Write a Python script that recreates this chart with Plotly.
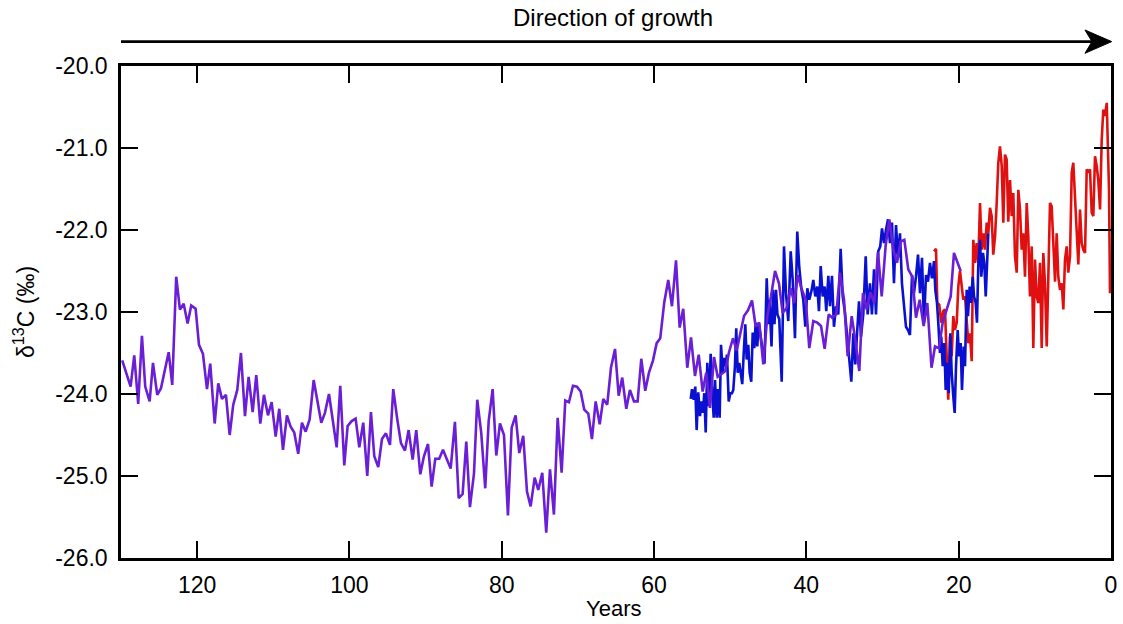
import plotly.graph_objects as go

# Stable carbon isotope record, three overlapping sample tracks (years before outer edge)
purple_years = [129.84, 128.74, 128.26, 127.74, 127.25, 126.82, 126.24, 125.80, 125.24, 124.75,
                123.74, 123.27, 122.75, 122.26, 121.77, 121.25, 120.78, 120.20, 119.76, 119.24,
                118.71, 118.28, 117.70, 117.23, 116.74, 116.22, 115.73, 115.26, 114.73, 114.25,
                113.72, 113.24, 112.71, 112.24, 111.71, 111.23, 110.70, 110.22, 109.69, 109.22,
                108.73, 108.21, 107.72, 107.25, 106.73, 106.24, 105.75, 105.23, 104.70, 104.23,
                103.70, 103.22, 102.69, 101.68, 101.21, 100.68, 100.24, 99.71, 99.19, 98.71,
                98.19, 97.66, 97.18, 96.74, 96.22, 95.73, 95.21, 94.68, 94.25, 93.72,
                93.24, 92.71, 92.23, 91.70, 91.23, 90.70, 90.22, 89.69, 89.21, 88.73,
                88.21, 87.72, 87.20, 86.71, 86.15, 85.66, 85.14, 84.66, 84.18, 83.65,
                83.22, 82.69, 82.17, 81.72, 81.20, 80.72, 80.24, 79.71, 79.19, 78.70,
                78.18, 77.70, 77.18, 76.69, 76.21, 75.68, 75.21, 74.68, 74.16, 73.67,
                73.15, 72.66, 72.14, 71.66, 71.18, 70.65, 70.13, 69.64, 69.17, 68.64,
                68.16, 67.67, 67.14, 66.67, 66.15, 65.66, 65.13, 64.65, 64.18, 63.65,
                63.17, 62.64, 62.16, 61.68, 61.16, 60.67, 60.14, 59.66, 59.19, 58.66,
                58.14, 57.65, 57.12, 56.64, 56.17, 55.64, 55.15, 54.63, 54.14, 53.62,
                53.15, 52.66, 52.13, 51.65, 51.18, 50.65, 50.16, 49.64, 49.15, 48.68,
                48.19, 47.67, 47.14, 46.66, 46.19, 45.66, 45.13, 44.65, 44.12, 43.60,
                43.11, 42.59, 42.06, 41.59, 41.14, 40.62, 40.09, 39.62, 39.09, 38.57,
                38.08, 37.60, 37.07, 36.60, 36.07, 35.59, 35.06, 34.58, 34.05, 33.58,
                33.05, 32.57, 32.08, 31.61, 31.08, 30.60, 30.11, 29.59, 29.11, 28.59,
                28.10, 27.62, 27.14, 26.62, 26.09, 25.61, 25.12, 24.60, 24.12, 23.57,
                23.11, 22.59, 22.10, 21.58, 21.05, 20.62, 20.18, 19.74]
purple_d13c = [-23.59, -23.91, -23.53, -24.12, -23.29, -23.91, -24.09, -23.62, -24.01, -23.93,
               -23.49, -23.89, -22.57, -22.97, -22.90, -23.14, -22.92, -22.96, -23.40, -23.51,
               -23.94, -23.63, -24.36, -23.87, -24.06, -24.01, -24.50, -24.13, -23.95, -23.50,
               -24.27, -23.79, -24.22, -23.77, -24.36, -24.01, -24.26, -24.10, -24.52, -24.18,
               -24.68, -24.26, -24.40, -24.47, -24.73, -24.35, -24.46, -24.31, -23.83, -24.09,
               -24.35, -24.23, -24.00, -24.65, -23.90, -24.87, -24.39, -24.33, -24.30, -24.65,
               -24.35, -25.00, -24.22, -24.76, -24.89, -24.55, -24.48, -24.62, -23.94, -24.31,
               -24.60, -24.69, -24.44, -24.80, -24.44, -24.98, -24.76, -24.61, -25.13, -24.79,
               -24.79, -24.68, -24.79, -24.91, -24.34, -25.27, -25.22, -24.58, -25.38, -24.97,
               -24.07, -24.48, -25.15, -24.33, -23.94, -24.75, -24.36, -24.50, -25.48, -24.41,
               -24.26, -24.72, -24.51, -25.19, -25.37, -25.02, -25.17, -24.96, -25.69, -24.92,
               -25.47, -24.29, -24.96, -24.08, -24.10, -23.90, -23.91, -23.97, -24.19, -24.24,
               -24.55, -24.09, -24.37, -24.06, -24.13, -23.68, -23.45, -24.02, -23.80, -24.18,
               -23.95, -24.09, -24.09, -23.57, -23.96, -23.74, -23.59, -23.38, -23.32, -22.88,
               -22.61, -22.93, -22.37, -23.19, -22.96, -23.68, -23.31, -23.78, -23.52, -23.97,
               -23.74, -24.17, -23.55, -23.79, -23.76, -23.72, -23.49, -23.32, -23.47, -23.25,
               -23.05, -22.98, -22.86, -23.18, -23.13, -23.64, -23.05, -22.81, -22.50, -22.65,
               -23.01, -22.95, -22.71, -22.89, -22.55, -22.72, -22.85, -23.44, -23.11, -23.13,
               -23.17, -23.45, -23.03, -23.07, -23.03, -22.52, -22.85, -23.54, -23.05, -23.34,
               -23.72, -22.77, -22.97, -22.76, -22.89, -22.27, -22.81, -22.19, -21.87, -22.24,
               -22.40, -22.14, -22.12, -22.48, -22.57, -23.07, -22.85, -23.17, -22.89, -23.68,
               -23.42, -23.44, -23.13, -22.97, -22.81, -22.28, -22.39, -22.50]

blue_years = [55.19, 55.02, 54.80, 54.59, 54.41, 54.20, 53.97, 53.80, 53.58, 53.41,
              53.22, 53.01, 52.79, 52.57, 52.40, 52.17, 52.00, 51.78, 51.61, 51.39,
              51.21, 50.99, 50.82, 50.60, 50.43, 50.20, 49.99, 49.77, 49.60, 49.38,
              49.21, 49.02, 48.81, 48.63, 48.42, 48.23, 48.02, 47.84, 47.63, 47.45,
              47.24, 47.05, 46.84, 46.66, 46.45, 46.26, 46.05, 45.77, 45.50, 45.21,
              44.98, 44.85, 44.58, 44.39, 44.19, 43.99, 43.80, 43.56, 43.24, 42.94,
              42.68, 42.38, 42.06, 41.80, 41.50, 41.20, 40.93, 40.67, 40.41, 40.14,
              39.88, 39.62, 39.30, 39.09, 38.83, 38.57, 38.35, 38.12, 37.86, 37.60,
              37.39, 37.12, 36.90, 36.64, 36.38, 36.11, 35.81, 35.50, 35.23, 34.93,
              34.63, 34.37, 34.10, 33.84, 33.58, 33.32, 33.09, 32.83, 32.53, 32.21,
              31.95, 31.65, 31.39, 31.12, 30.86, 30.56, 30.30, 30.07, 29.81, 29.55,
              29.28, 29.02, 28.76, 28.50, 28.23, 27.97, 27.71, 27.45, 27.18, 26.92,
              26.66, 26.40, 26.13, 25.87, 25.61, 25.34, 25.08, 24.82, 24.56, 24.29,
              24.03, 23.77, 23.51, 23.24, 23.07, 22.85, 22.68, 22.46, 22.29, 22.10,
              21.89, 21.71, 21.50, 21.31, 21.10, 20.92, 20.71, 20.53, 20.35, 20.13,
              19.96, 19.74, 19.57, 19.34, 19.17, 18.95, 18.78, 18.56, 18.38, 18.16,
              17.99, 17.77, 17.60, 17.43, 17.20, 17.03, 16.81, 16.64, 16.45, 16.28,
              16.11]
blue_d13c = [-24.06, -23.94, -24.07, -23.91, -24.44, -23.98, -24.27, -24.09, -24.23, -23.99,
             -24.47, -23.62, -24.15, -23.51, -23.91, -24.29, -23.83, -24.29, -23.94, -24.29,
             -23.40, -23.74, -23.56, -23.66, -23.52, -24.09, -23.99, -23.99, -23.95, -23.66,
             -23.20, -23.74, -23.62, -23.76, -23.88, -23.50, -23.15, -23.58, -23.40, -23.74,
             -23.85, -23.25, -23.44, -23.13, -23.42, -23.13, -23.28, -23.46, -23.63, -22.59,
             -23.15, -22.85, -23.42, -22.73, -23.15, -22.73, -23.03, -23.09, -23.85, -22.20,
             -22.77, -23.11, -22.26, -22.61, -23.32, -22.02, -22.46, -22.71, -22.85, -23.18,
             -22.71, -22.85, -22.73, -22.61, -22.81, -22.69, -22.99, -22.44, -22.81, -22.69,
             -22.99, -22.56, -22.93, -22.56, -23.18, -22.93, -23.03, -22.23, -22.81, -23.01,
             -23.32, -23.58, -23.85, -23.26, -23.64, -23.22, -22.87, -23.30, -23.03, -22.32,
             -23.03, -22.65, -23.03, -22.48, -23.03, -22.26, -22.20, -21.98, -22.16, -22.00,
             -21.87, -22.16, -21.91, -22.65, -21.94, -22.34, -22.04, -22.65, -22.89, -23.18,
             -23.22, -23.28, -22.55, -22.77, -22.57, -22.30, -22.77, -22.34, -23.13, -22.55,
             -22.63, -22.40, -22.59, -22.38, -22.73, -22.89, -23.13, -23.50, -23.30, -23.66,
             -23.38, -23.95, -23.62, -23.99, -23.26, -23.74, -24.03, -24.23, -23.66, -23.22,
             -23.54, -23.38, -23.95, -23.42, -23.66, -22.73, -23.05, -22.69, -22.89, -22.57,
             -22.81, -22.89, -23.13, -22.44, -22.12, -22.57, -22.28, -22.40, -22.81, -22.32,
             -22.04]

red_years = [23.24, 22.98, 22.81, 22.55, 22.29, 22.02, 21.80, 21.58, 21.37, 21.14,
             20.92, 20.71, 20.49, 20.26, 20.05, 19.83, 19.61, 19.40, 19.17, 18.95,
             18.74, 18.52, 18.29, 18.08, 17.86, 17.64, 17.43, 17.20, 16.98, 16.77,
             16.55, 16.32, 16.11, 15.89, 15.67, 15.46, 15.23, 15.01, 14.80, 14.58,
             14.35, 14.14, 13.92, 13.70, 13.49, 13.26, 13.04, 12.83, 12.61, 12.38,
             12.17, 11.95, 11.73, 11.52, 11.29, 11.07, 10.86, 10.64, 10.41, 10.20,
             9.98, 9.76, 9.55, 9.32, 9.10, 8.89, 8.67, 8.44, 8.23, 8.01,
             7.79, 7.58, 7.35, 7.13, 6.92, 6.70, 6.47, 6.26, 6.04, 5.82,
             5.61, 5.38, 5.16, 4.95, 4.73, 4.50, 4.29, 4.07, 3.85, 3.64,
             3.41, 3.19, 2.98, 2.76, 2.53, 2.32, 2.10, 1.88, 1.67, 1.44,
             1.22, 1.01, 0.79, 0.56, 0.43, 0.26, 0.13]
red_d13c = [-22.26, -22.23, -22.89, -22.91, -23.13, -22.99, -22.97, -23.62, -24.07, -23.30,
            -23.54, -23.05, -23.22, -23.13, -22.69, -22.50, -22.69, -22.85, -22.81, -23.13,
            -23.38, -23.26, -23.60, -22.12, -22.40, -22.16, -22.40, -21.67, -22.24, -22.04,
            -22.24, -21.91, -22.04, -21.73, -21.83, -22.30, -22.08, -21.67, -21.18, -20.98,
            -21.22, -21.91, -21.08, -21.14, -21.90, -21.39, -21.83, -21.55, -22.32, -22.52,
            -21.51, -21.75, -22.24, -22.04, -22.57, -21.67, -22.08, -22.81, -22.20, -23.44,
            -22.36, -22.81, -22.89, -22.40, -23.44, -22.28, -22.65, -23.42, -22.32, -21.67,
            -21.71, -22.12, -22.63, -22.04, -22.57, -22.73, -22.65, -22.97, -22.36, -22.20,
            -22.52, -22.32, -21.30, -21.18, -21.55, -22.00, -22.42, -21.75, -22.16, -22.24,
            -22.28, -21.26, -21.30, -21.26, -21.79, -21.83, -21.10, -21.22, -21.39, -21.75,
            -20.90, -20.53, -20.61, -20.45, -20.86, -21.51, -22.77]

x_ticks = [120, 100, 80, 60, 40, 20, 0]
x_tick_labels = ["120", "100", "80", "60", "40", "20", "0"]
y_ticks = [-26, -25, -24, -23, -22, -21, -20]
y_tick_labels = ["-26.0", "-25.0", "-24.0", "-23.0", "-22.0", "-21.0", "-20.0"]

FONT = "Liberation Sans, Arial, Helvetica, sans-serif"
TEXT_SIZE = 23

fig = go.Figure()
fig.add_trace(go.Scatter(x=red_years, y=red_d13c, mode="lines",
                         line=dict(color="#e01010", width=2.6), showlegend=False))
fig.add_trace(go.Scatter(x=blue_years, y=blue_d13c, mode="lines",
                         line=dict(color="#0a10d0", width=2.6), showlegend=False))
fig.add_trace(go.Scatter(x=purple_years, y=purple_d13c, mode="lines",
                         line=dict(color="#6a1fd6", width=2.6), showlegend=False))

axis_style = dict(showline=True, linecolor="black", linewidth=2.5, mirror="ticks",
                  ticks="inside", ticklen=17, tickwidth=2, tickcolor="black",
                  showgrid=False, zeroline=False, automargin=False,
                  tickfont=dict(family=FONT, size=TEXT_SIZE, color="black"))

fig.update_xaxes(range=[130, 0], tickmode="array", tickvals=x_ticks, ticktext=x_tick_labels,
                 ticklabelstandoff=5, **axis_style)
fig.update_yaxes(range=[-26, -20], tickmode="array", tickvals=y_ticks, ticktext=y_tick_labels,
                 ticklabelstandoff=6, **axis_style)

# Axis titles
fig.add_annotation(text="Years", xref="paper", yref="paper", x=0.497, y=-0.102,
                   xanchor="center", yanchor="middle", showarrow=False,
                   font=dict(family=FONT, size=22, color="black"))
fig.add_annotation(text="δ<sup>13</sup>C (‰)", xref="paper", yref="paper", x=-0.098, y=0.5,
                   xanchor="center", yanchor="middle", textangle=-90, showarrow=False,
                   font=dict(family=FONT, size=TEXT_SIZE, color="black"))

# Growth-direction arrow above the plot
fig.add_shape(type="line", xref="paper", yref="paper", x0=0.0, x1=0.981, y0=1.0496, y1=1.0496,
              line=dict(color="black", width=2.6))
fig.add_shape(type="path", xref="paper", yref="paper",
              path="M 0.9737 1.0732 L 1.0007 1.0496 L 0.9737 1.0258 L 0.9808 1.0496 Z",
              fillcolor="black", line=dict(color="black", width=1))
fig.add_annotation(text="Direction of growth", xref="paper", yref="paper", x=0.497, y=1.0976,
                   xanchor="center", yanchor="middle", showarrow=False,
                   font=dict(family=FONT, size=24, color="black"))

fig.update_layout(width=1123, height=624, margin=dict(l=121, r=12, t=66, b=66),
                  plot_bgcolor="white", paper_bgcolor="white",
                  font=dict(family=FONT, color="black"))

fig.write_html("out.html")
